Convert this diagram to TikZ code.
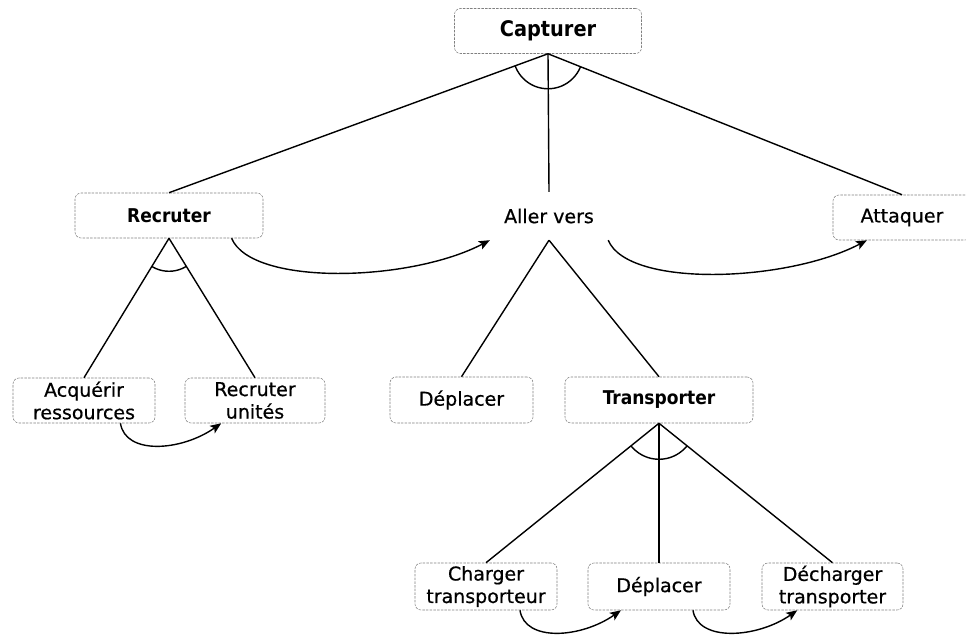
\documentclass[tikz,border=0pt]{standalone}
\usepackage{fontspec}
\setmainfont[FakeBold=0.6]{DejaVu Sans}
\newfontfamily\heavyfont{DejaVu Sans Condensed}
\usetikzlibrary{arrows.meta}

\begin{document}
\begin{tikzpicture}[x=1pt,y=-1pt,
  label font/.style={font=\fontsize{19pt}{22.5pt}\selectfont},
  task/.style={draw=black!50, line width=0.55pt, dash pattern=on 2.5pt off 1.2pt,
    rounded corners=6pt, align=center, inner sep=2pt, label font},
  heavy/.style={font=\heavyfont\bfseries\fontsize{19pt}{22.5pt}\selectfont},
  plain/.style={align=center, inner sep=0pt, label font},
  link/.style={line width=1.4pt},
  seq/.style={line width=1.4pt, -{Stealth[length=11pt,width=9pt,inset=2.5pt]}},
  andarc/.style={line width=1.4pt}]
\useasboundingbox (0,0) rectangle (966,636);

% goal and first-level tasks
\node[task, minimum width=187pt, minimum height=45pt,
      font=\heavyfont\bfseries\fontsize{21.5pt}{24pt}\selectfont] (cap) at (548,31) {Capturer};
\node[task, heavy, minimum width=188pt, minimum height=45pt] (rec) at (169,215.5) {Recruter};
\node[plain, minimum width=118pt, minimum height=48pt] (aller) at (549,216) {Aller vers};
\node[task, minimum width=138pt, minimum height=45pt] (att) at (902,217.5) {Attaquer};

% second level
\node[task, minimum width=142pt, minimum height=45pt] (acq) at (84,400.5) {Acquérir\\ressources};
\node[task, minimum width=140pt, minimum height=45pt] (ru) at (255,400.5) {Recruter\\unités};
\node[task, minimum width=143pt, minimum height=46pt] (dep1) at (461.5,400) {Déplacer};
\node[task, heavy, minimum width=188pt, minimum height=46pt] (trans) at (659,400) {Transporter};

% third level
\node[task, minimum width=142pt, minimum height=47pt] (chg) at (486,586.5) {Charger\\transporteur};
\node[task, minimum width=142pt, minimum height=47pt] (dep2) at (659,586.5) {Déplacer};
\node[task, minimum width=141pt, minimum height=47pt] (dech) at (832.5,586.5) {Décharger\\transporter};

% decomposition links
\draw[link] (cap.south) -- (rec.north);
\draw[link] (cap.south) -- (aller.north);
\draw[link] (cap.south) -- (att.north);
\draw[link] (rec.south) -- (acq.north);
\draw[link] (rec.south) -- (ru.north);
\draw[link] (aller.south) -- (dep1.north);
\draw[link] (aller.south) -- (trans.north);
\draw[link] (trans.south) -- (chg.north);
\draw[link] (trans.south) -- (dep2.north);
\draw[link] (trans.south) -- (dech.north);

% AND arcs
\begin{scope}
  \clip (cap.south) -- (rec.north) -- (att.north) -- cycle;
  \draw[andarc] (cap.south) circle[radius=35pt];
\end{scope}
\begin{scope}
  \clip (rec.south) -- (acq.north) -- (ru.north) -- cycle;
  \draw[andarc] (rec.south) circle[radius=33pt];
\end{scope}
\begin{scope}
  \clip (trans.south) -- (chg.north) -- (dech.north) -- cycle;
  \draw[andarc] (trans.south) circle[radius=36pt];
\end{scope}

% ordering arrows
\draw[seq] (rec.-20) .. controls +(20,48) and +(-80,42) .. (aller.south west);
\draw[seq] (aller.south east) .. controls +(20,48) and +(-80,42) .. (att.-147);
\draw[seq] (acq.-32) .. controls +(5,32) and +(-40,28) .. (ru.-146);
\draw[seq] (chg.-35) .. controls +(5,32) and +(-40,28) .. (dep2.-148);
\draw[seq] (dep2.-35) .. controls +(5,32) and +(-40,28) .. (dech.-146);
\end{tikzpicture}
\end{document}
